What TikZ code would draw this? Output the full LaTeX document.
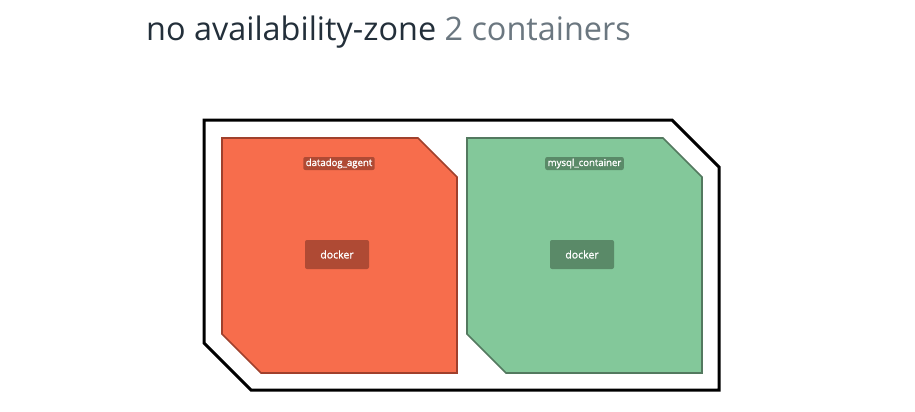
\documentclass[tikz,border=0pt]{standalone}
\usepackage{fontspec}
\setmainfont{Open Sans}
\newfontfamily\lblfont{Open Sans}[FakeBold=1.2]
\begin{document}
\begin{tikzpicture}[x=1pt,y=-1pt,
  zone/.style={draw=black,line width=3pt,fill=white,line join=miter},
  orangebox/.style={draw=orangeedge,fill=orangefill,line width=1.6pt},
  greenbox/.style={draw=greenedge,fill=greenfill,line width=1.6pt},
  tag/.style={text=white,font=\lblfont\fontsize{9.6}{11}\selectfont,inner xsep=2.5pt,inner ysep=0pt,minimum height=13pt,rounded corners=2pt},
  engine/.style={text=white,font=\lblfont\fontsize{10.5}{12}\selectfont,minimum width=64pt,minimum height=29pt,rounded corners=2pt,inner sep=0pt},
  title/.style={font=\fontsize{32.4}{36}\selectfont,anchor=base west,inner sep=0pt}]
\definecolor{orangefill}{HTML}{F76D4C}
\definecolor{orangeedge}{HTML}{A0402C}
\definecolor{orangedark}{HTML}{AF4A34}
\definecolor{greenfill}{HTML}{83C89A}
\definecolor{greenedge}{HTML}{53795F}
\definecolor{greendark}{HTML}{5A8A68}
\definecolor{titledark}{HTML}{232F3A}
\definecolor{titlegray}{HTML}{6B7780}
\useasboundingbox[fill=white] (0,0) rectangle (915,412);
\node[title] (ttl) at (146,41) {\textcolor{titledark}{no availability-zone} \textcolor{titlegray}{2 containers}};
\draw[zone] (204,120) -- (672,120) -- (719,167) -- (719,390) -- (251,390) -- (204,343) -- cycle;
\draw[orangebox] (222,138) -- (418,138) -- (457,177) -- (457,373) -- (261,373) -- (222,334) -- cycle;
\draw[greenbox] (467,138) -- (663,138) -- (702,177) -- (702,373) -- (506,373) -- (467,334) -- cycle;
\node[tag,fill=orangedark] (lbla) at (339,163.5) {datadog\_agent};
\node[engine,fill=orangedark] (dka) at (337,254.5) {docker};
\node[tag,fill=greendark] (lblb) at (584.5,163.5) {mysql\_container};
\node[engine,fill=greendark] (dkb) at (582,254.5) {docker};
\end{tikzpicture}
\end{document}
